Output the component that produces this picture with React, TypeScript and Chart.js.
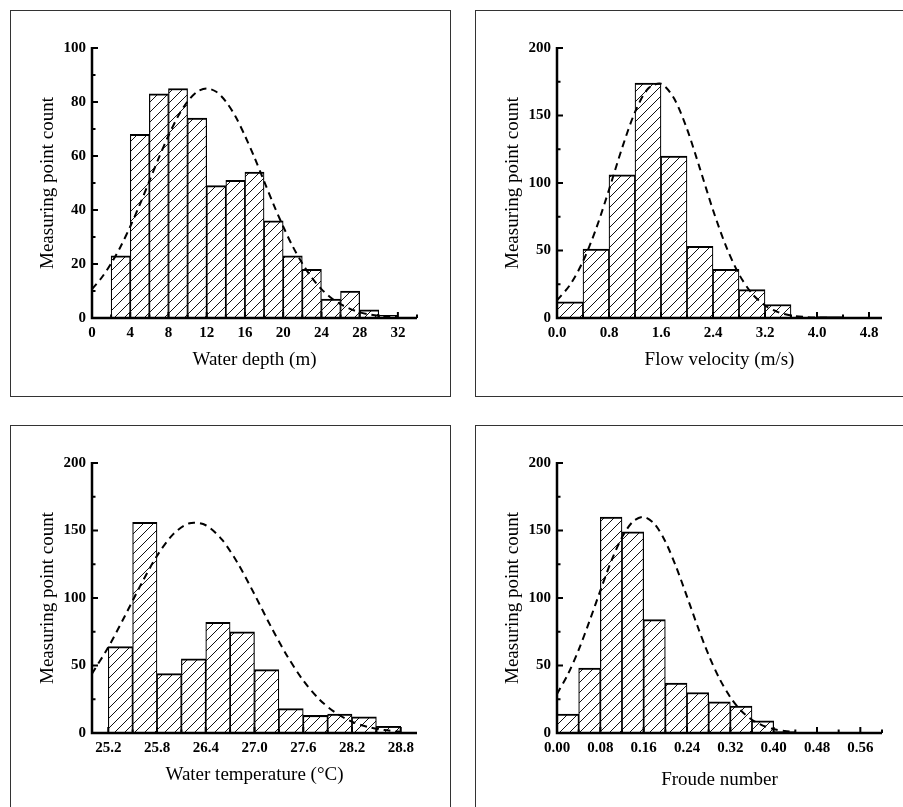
import React, { useEffect, useRef } from "react";
import { Chart, registerables } from "chart.js";
Chart.register(...registerables);

// ---------- Panel 1: Water depth ----------
const depthBinStart = [2, 4, 6, 8, 10, 12, 14, 16, 18, 20, 22, 24, 26, 28, 30];
const depthBinWidth = 2;
const depthCounts = [23, 68, 83, 85, 74, 49, 51, 54, 36, 23, 18, 7, 10, 3, 1];
const depthCurveX = [0, 1, 2, 3, 4, 5, 6, 7, 8, 9, 10, 11, 12, 13, 14, 15, 16, 17, 18, 19, 20, 21, 22, 23, 24, 25, 26, 27, 28, 29, 30, 31, 32];
const depthCurveY = [10.7, 14.9, 20.2, 26.5, 33.9, 42.0, 50.7, 59.4, 67.5, 74.7, 80.2, 83.8, 85, 83.8, 80.2, 74.7, 67.5, 59.4, 50.7, 42.0, 33.9, 26.5, 20.2, 14.9, 10.7, 7.5, 5.1, 3.4, 2.1, 1.3, 0.8, 0.5, 0.3];
const depthXTicks = [0, 4, 8, 12, 16, 20, 24, 28, 32];
const depthYTicks = [0, 20, 40, 60, 80, 100];

// ---------- Panel 2: Flow velocity ----------
const velBinStart = [0, 0.4, 0.8, 1.2, 1.6, 2.0, 2.4, 2.8, 3.2, 3.6, 4.0];
const velBinWidth = 0.4;
const velCounts = [12, 51, 106, 174, 120, 53, 36, 21, 10, 0, 1];
const velCurveX = [0, 0.2, 0.4, 0.6, 0.8, 1.0, 1.2, 1.4, 1.6, 1.8, 2.0, 2.2, 2.4, 2.6, 2.8, 3.0, 3.2, 3.4, 3.6, 3.8, 4.0, 4.2, 4.4, 4.6, 4.8, 5.0];
const velCurveY = [13.1, 24.5, 42.0, 65.9, 95.0, 125.7, 152.5, 169.8, 173.5, 162.7, 140.0, 110.5, 80.0, 53.2, 32.4, 18.1, 9.3, 4.4, 1.9, 0.8, 0.3, 0.1, 0, 0, 0, 0];
const velXTicks = [0, 0.8, 1.6, 2.4, 3.2, 4.0, 4.8];
const velYTicks = [0, 50, 100, 150, 200];

// ---------- Panel 3: Water temperature ----------
const tempBinStart = [25.2, 25.5, 25.8, 26.1, 26.4, 26.7, 27.0, 27.3, 27.6, 27.9, 28.2, 28.5];
const tempBinWidth = 0.3;
const tempCounts = [64, 156, 44, 55, 82, 75, 47, 18, 13, 14, 12, 5];
const tempCurveX = [25.0, 25.2, 25.4, 25.6, 25.8, 26.0, 26.2, 26.4, 26.6, 26.8, 27.0, 27.2, 27.4, 27.6, 27.8, 28.0, 28.2, 28.4, 28.6, 28.8];
const tempCurveY = [44.0, 63.5, 86.1, 109.7, 131.2, 147.3, 155.4, 153.9, 143.2, 125.1, 102.7, 79.1, 57.3, 38.9, 24.8, 14.9, 8.4, 4.4, 2.2, 1.0];
const tempXTicks = [25.2, 25.8, 26.4, 27.0, 27.6, 28.2, 28.8];
const tempYTicks = [0, 50, 100, 150, 200];

// ---------- Panel 4: Froude number ----------
const frBinStart = [0, 0.04, 0.08, 0.12, 0.16, 0.2, 0.24, 0.28, 0.32, 0.36, 0.4];
const frBinWidth = 0.04;
const frCounts = [14, 48, 160, 149, 84, 37, 30, 23, 20, 9, 1];
const frCurveX = [0, 0.02, 0.04, 0.06, 0.08, 0.1, 0.12, 0.14, 0.16, 0.18, 0.2, 0.22, 0.24, 0.26, 0.28, 0.3, 0.32, 0.34, 0.36, 0.38, 0.4, 0.42, 0.44];
const frCurveY = [28.9, 43.4, 61.6, 82.9, 105.5, 127.1, 144.9, 156.5, 160.0, 154.8, 141.8, 123.0, 101.0, 78.5, 57.7, 40.2, 26.5, 16.5, 9.8, 5.5, 2.9, 1.5, 0.7];
const frXTicks = [0, 0.08, 0.16, 0.24, 0.32, 0.4, 0.48, 0.56];
const frYTicks = [0, 50, 100, 150, 200];

const Y_TITLE = "Measuring point count";
const SERIF = '"Liberation Serif", "Times New Roman", Times, serif';

type PanelCfg = {
  left: number;
  top: number;
  binStart: number[];
  binWidth: number;
  counts: number[];
  curveX: number[];
  curveY: number[];
  xTicks: number[];
  xMin: number;
  xMax: number;
  decimals: number;
  yTicks: number[];
  xTitle: string;
  xTitlePad: number;
};

const panels: PanelCfg[] = [
  { left: 10, top: 10, binStart: depthBinStart, binWidth: depthBinWidth, counts: depthCounts, curveX: depthCurveX, curveY: depthCurveY, xTicks: depthXTicks, xMin: 0, xMax: 34, decimals: 0, yTicks: depthYTicks, xTitle: "Water depth (m)", xTitlePad: 25 },
  { left: 475, top: 10, binStart: velBinStart, binWidth: velBinWidth, counts: velCounts, curveX: velCurveX, curveY: velCurveY, xTicks: velXTicks, xMin: 0, xMax: 5.0, decimals: 1, yTicks: velYTicks, xTitle: "Flow velocity (m/s)", xTitlePad: 25 },
  { left: 10, top: 425, binStart: tempBinStart, binWidth: tempBinWidth, counts: tempCounts, curveX: tempCurveX, curveY: tempCurveY, xTicks: tempXTicks, xMin: 25.0, xMax: 29.0, decimals: 1, yTicks: tempYTicks, xTitle: "Water temperature (\u00B0C)", xTitlePad: 25 },
  { left: 475, top: 425, binStart: frBinStart, binWidth: frBinWidth, counts: frCounts, curveX: frCurveX, curveY: frCurveY, xTicks: frXTicks, xMin: 0, xMax: 0.6, decimals: 2, yTicks: frYTicks, xTitle: "Froude number", xTitlePad: 20 },
];

const CW = 439;
const CH = 385;

function makeHatch(): CanvasPattern | string {
  const s = 10;
  const c = document.createElement("canvas");
  c.width = s;
  c.height = s;
  const g = c.getContext("2d");
  if (!g) return "#fff";
  g.fillStyle = "#fff";
  g.fillRect(0, 0, s, s);
  g.strokeStyle = "#111";
  g.lineWidth = 1;
  g.beginPath();
  g.moveTo(-1, s + 1);
  g.lineTo(s + 1, -1);
  g.moveTo(-1, 1);
  g.lineTo(1, -1);
  g.moveTo(s - 1, s + 1);
  g.lineTo(s + 1, s - 1);
  g.stroke();
  const p = g.createPattern(c, "repeat");
  return p || "#fff";
}

const axesPlugin = {
  id: "originAxes",
  afterDatasetsDraw(chart: any) {
    const { ctx, chartArea } = chart;
    const { left, right, top, bottom } = chartArea;
    const xs = chart.scales.x;
    const ys = chart.scales.y;
    ctx.save();
    ctx.strokeStyle = "#000";
    ctx.lineWidth = 2.5;
    ctx.lineCap = "butt";
    ctx.beginPath();
    ctx.moveTo(left, top - 1);
    ctx.lineTo(left, bottom);
    ctx.lineTo(right, bottom);
    ctx.stroke();

    ctx.lineWidth = 2;
    const xv: number[] = xs.ticks.map((t: any) => t.value);
    const yv: number[] = ys.ticks.map((t: any) => t.value);
    const minors = (vals: number[], mn: number, mx: number) => {
      const out: number[] = [];
      if (vals.length < 2) return out;
      const step = vals[1] - vals[0];
      if (vals[0] - step / 2 >= mn - 1e-9) out.push(vals[0] - step / 2);
      for (let i = 0; i < vals.length - 1; i++) out.push((vals[i] + vals[i + 1]) / 2);
      const last = vals[vals.length - 1] + step / 2;
      if (last <= mx + 1e-9) out.push(last);
      return out;
    };
    ctx.beginPath();
    for (const v of xv) {
      const px = xs.getPixelForValue(v);
      ctx.moveTo(px, bottom);
      ctx.lineTo(px, bottom - 6);
    }
    for (const v of minors(xv, xs.min, xs.max)) {
      const px = xs.getPixelForValue(v);
      ctx.moveTo(px, bottom);
      ctx.lineTo(px, bottom - 3.5);
    }
    for (const v of yv) {
      const py = ys.getPixelForValue(v);
      ctx.moveTo(left, py);
      ctx.lineTo(left + 6, py);
    }
    for (const v of minors(yv, ys.min, ys.max)) {
      const py = ys.getPixelForValue(v);
      ctx.moveTo(left, py);
      ctx.lineTo(left + 3.5, py);
    }
    ctx.stroke();
    ctx.restore();
  },
};

function Panel({ cfg }: { cfg: PanelCfg }) {
  const ref = useRef<HTMLCanvasElement | null>(null);
  useEffect(() => {
    if (!ref.current) return;
    const hatch = makeHatch();
    const barData = cfg.binStart.map((s, i) => ({ x: s + cfg.binWidth / 2, y: cfg.counts[i] }));
    const lineData = cfg.curveX.map((x, i) => ({ x, y: cfg.curveY[i] }));
    const yMax = cfg.yTicks[cfg.yTicks.length - 1];
    const chart = new Chart(ref.current, {
      type: "bar",
      data: {
        datasets: [
          {
            type: "line",
            data: lineData,
            borderColor: "#000",
            borderWidth: 2,
            borderDash: [7, 5],
            pointRadius: 0,
            fill: false,
            tension: 0.3,
            order: 0,
          } as any,
          {
            type: "bar",
            data: barData,
            backgroundColor: hatch as any,
            borderColor: "#000",
            borderWidth: { top: 2, left: 1.2, right: 1.2, bottom: 0 },
            borderSkipped: false,
            barPercentage: 1,
            categoryPercentage: 1,
            order: 1,
          } as any,
        ],
      },
      options: {
        responsive: false,
        animation: false,
        devicePixelRatio: 1,
        events: [],
        layout: { padding: { left: 0, top: 37, right: 33, bottom: 0 } },
        plugins: { legend: { display: false }, tooltip: { enabled: false } },
        scales: {
          x: {
            type: "linear",
            min: cfg.xMin,
            max: cfg.xMax,
            offset: false,
            grid: { display: false, drawTicks: false },
            border: { display: false },
            afterBuildTicks: (scale: any) => {
              scale.ticks = cfg.xTicks.map((v) => ({ value: v }));
            },
            afterFit: (scale: any) => {
              scale.height = 78;
            },
            ticks: {
              autoSkip: false,
              maxRotation: 0,
              padding: 6,
              color: "#000",
              font: { family: SERIF, size: 15, weight: "bold" },
              callback: (v: any) => Number(v).toFixed(cfg.decimals),
            },
            title: {
              display: true,
              text: cfg.xTitle,
              color: "#000",
              font: { family: SERIF, size: 19 },
              padding: { top: 0, bottom: cfg.xTitlePad },
            },
          },
          y: {
            type: "linear",
            min: 0,
            max: yMax,
            grid: { display: false, drawTicks: false },
            border: { display: false },
            afterBuildTicks: (scale: any) => {
              scale.ticks = cfg.yTicks.map((v) => ({ value: v }));
            },
            afterFit: (scale: any) => {
              scale.width = 81;
            },
            ticks: {
              autoSkip: false,
              padding: 6,
              color: "#000",
              font: { family: SERIF, size: 15, weight: "bold" },
              callback: (v: any) => String(v),
            },
            title: {
              display: true,
              text: Y_TITLE,
              color: "#000",
              font: { family: SERIF, size: 19 },
              padding: { top: 25.5, bottom: 0 },
            },
          },
        },
      } as any,
      plugins: [axesPlugin],
    });
    return () => chart.destroy();
  }, [cfg]);
  return (
    <div
      style={{
        position: "absolute",
        left: cfg.left,
        top: cfg.top,
        width: CW + 2,
        height: CH + 2,
        border: "1px solid #333",
        boxSizing: "border-box",
        background: "#fff",
      }}
    >
      <canvas ref={ref} width={CW} height={CH} style={{ display: "block", width: CW, height: CH }} />
    </div>
  );
}

export default function App() {
  return (
    <div
      style={{
        position: "fixed",
        left: 0,
        top: 0,
        width: 903,
        height: 807,
        overflow: "hidden",
        background: "#fff",
      }}
    >
      {panels.map((p, i) => (
        <Panel key={i} cfg={p} />
      ))}
    </div>
  );
}
